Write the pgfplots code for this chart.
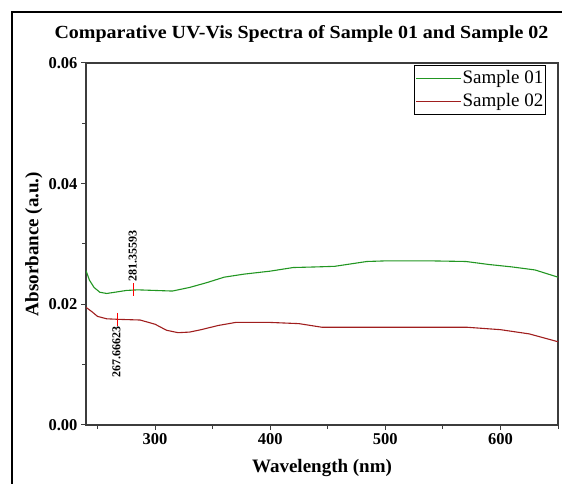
\documentclass[border=0pt]{standalone}
\usepackage{pgfplots}
\pgfplotsset{compat=1.18}
\usepackage{fontspec}
\setmainfont{Liberation Serif}
\definecolor{gline}{RGB}{34,150,34}
\definecolor{rline}{RGB}{160,30,30}
\definecolor{mkred}{RGB}{255,0,0}
\definecolor{axgray}{RGB}{60,60,60}
\begin{document}
\begin{tikzpicture}[x=1bp,y=1bp]
\useasboundingbox (0,0) rectangle (562,484);
\draw[line width=1.3bp, black] (12,-20) -- (12,472) -- (600,472);
\node[font=\bfseries\fontsize{18.5bp}{22bp}\selectfont, anchor=center] at (301.5,450) {\scalebox{1.08}[1]{Comparative UV-Vis Spectra of Sample 01 and Sample 02}};
\begin{axis}[
  at={(86bp,59bp)}, anchor=south west,
  scale only axis, width=472bp, height=362bp,
  xmin=240, xmax=650, ymin=0, ymax=0.06,
  xtick={300,400,500,600}, minor xtick={250,350,450,550,650},
  ytick={0,0.02,0.04,0.06}, minor ytick={0.01,0.03,0.05},
  scaled y ticks=false,
  xtick pos=bottom, ytick pos=left,
  tick align=outside,
  major tick length=5bp, minor tick length=4bp,
  axis line style={axgray, line width=1.1bp},
  every tick/.style={axgray, line width=1bp},
  yticklabel style={/pgf/number format/fixed, /pgf/number format/fixed zerofill, /pgf/number format/precision=2},
  /pgf/number format/assume math mode=true,
  tick label style={font=\bfseries\fontsize{16.5bp}{19bp}\selectfont},
  xlabel={Wavelength (nm)},
  ylabel={Absorbance (a.u.)},
  label style={font=\bfseries\fontsize{19bp}{22bp}\selectfont},
  xlabel style={at={(0.5,0)}, anchor=north, yshift=-31bp},
  ylabel style={at={(0,0.5)}, anchor=south, yshift=40bp},
  legend style={at={(0.9746,0.9945)}, anchor=north east, draw=black, line width=0.9bp,
    font=\fontsize{19bp}{19bp}\selectfont, inner sep=1.5bp, row sep=0bp,
    nodes={inner sep=0.8bp, text height=16bp, text depth=5.5bp}},
  legend cell align=left,
  legend image code/.code={\draw[#1] plot coordinates {(0cm,0cm) (1.59cm,0cm)};},
]
\addplot[gline, line width=1.1bp] coordinates {
(240,0.0256) (243,0.0240) (247,0.0228) (252,0.0220) (258,0.0218) (265,0.0220)
(275,0.0223) (285,0.0224) (300,0.0223) (315,0.0222) (330,0.0228) (345,0.0236)
(360,0.0245) (377,0.0250) (400,0.0255) (420,0.0261) (440,0.0262) (456,0.0263)
(470,0.0267) (484,0.0271) (500,0.0272) (540,0.0272) (570,0.0271) (590,0.0266)
(610,0.0262) (630,0.0257) (650,0.0245)};
\addlegendentry{Sample 01}
\addplot[rline, line width=1.1bp] coordinates {
(240,0.0195) (245,0.0188) (250,0.0180) (258,0.0176) (270,0.0175) (287,0.0174)
(300,0.0167) (310,0.0157) (320,0.0153) (330,0.0154) (340,0.0158) (355,0.0165)
(370,0.0170) (400,0.0170) (425,0.0168) (445,0.0162) (500,0.0162) (571,0.0162)
(600,0.0158) (625,0.0151) (650,0.0138)};
\addlegendentry{Sample 02}
\addplot[only marks, forget plot, mark=|, mark size=6.5bp,
  mark options={draw=mkred, color=mkred, line width=1.3bp}] coordinates {(281.36,0.02245) (267.66,0.0175)};
\node[rotate=90, text=black, font=\bfseries\fontsize{12bp}{13bp}\selectfont] at (axis cs:280.6,0.0280) {281.35593};
\node[rotate=90, text=black, font=\bfseries\fontsize{12bp}{13bp}\selectfont] at (axis cs:266.5,0.0121) {267.66623};
\end{axis}
\end{tikzpicture}
\end{document}
